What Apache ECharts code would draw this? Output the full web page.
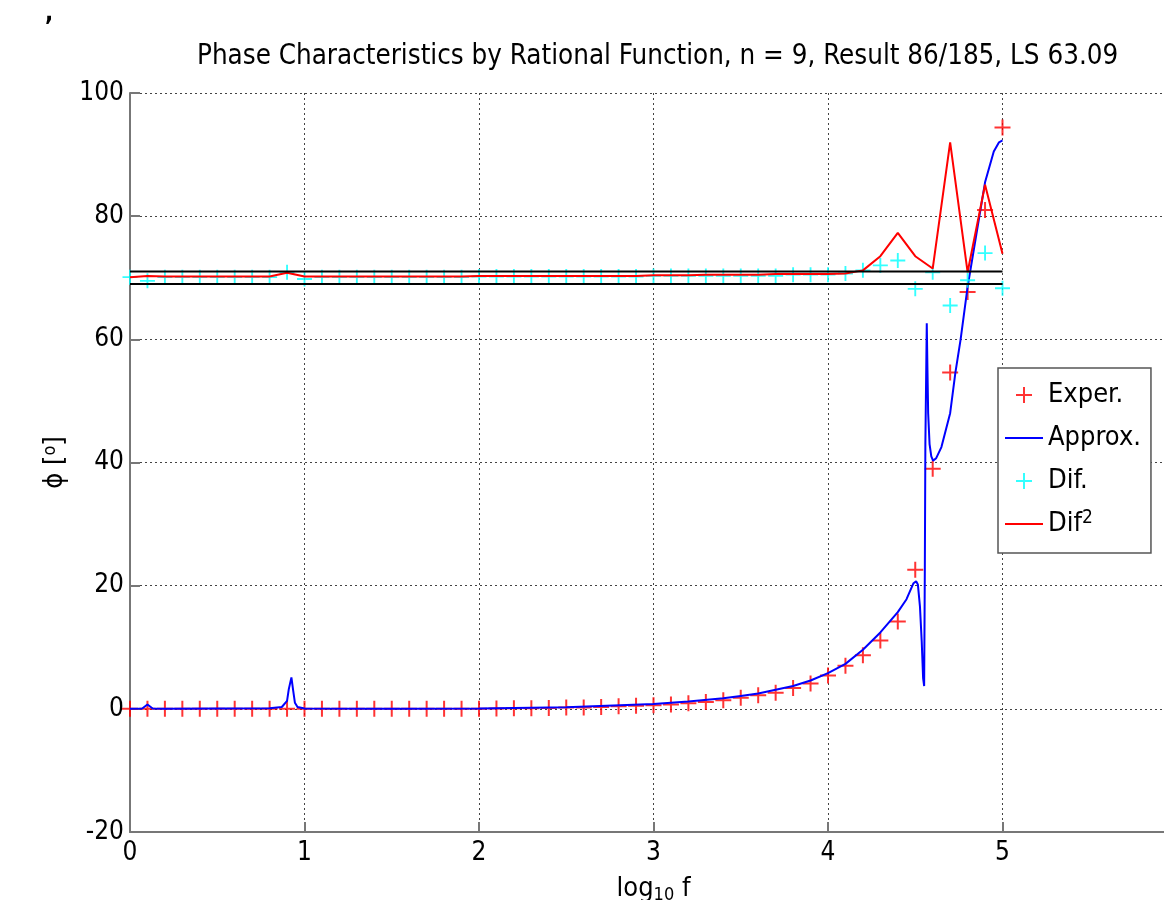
<!DOCTYPE html>
<html><head><meta charset="utf-8">
<script src="https://cdn.jsdelivr.net/npm/echarts@6/dist/echarts.min.js"></script>
<style>html,body{margin:0;padding:0;background:#fff}#c{width:1164px;height:900px}</style>
</head><body><div id="c"></div>
<script>
const FONT = "'Liberation Sans Narrow','Arial Narrow','DejaVu Sans Condensed',sans-serif";
const titleText = 'Phase Characteristics by Rational Function, n = 9, Result 86/185, LS 63.09';
const xTickLabels = ['0','1','2','3','4','5'];
const yTickLabels = ['-20','0','20','40','60','80','100'];
const expX = [0,0.1,0.2,0.3,0.4,0.5,0.6,0.7,0.8,0.9,1.0,1.1,1.2,1.3,1.4,1.5,1.6,1.7,1.8,1.9,
  2.0,2.1,2.2,2.3,2.4,2.5,2.6,2.7,2.8,2.9,3.0,3.1,3.2,3.3,3.4,3.5,3.6,3.7,3.8,3.9,
  4.0,4.1,4.2,4.3,4.4,4.5,4.6,4.7,4.8,4.9,5.0];
const experY = [0,0,0,0,0,0,0,0,0,0,0,0,0,0,0,0,0,0,0,0,
  0.0,0.05,0.1,0.1,0.15,0.2,0.2,0.3,0.4,0.5,0.6,0.7,0.9,1.1,1.4,1.8,2.2,2.6,3.4,4.1,
  5.4,7.0,8.7,11.1,14.2,22.6,39.0,54.6,67.7,81.0,94.4];
const difY = [70.1,69.5,70.1,70.1,70.1,70.1,70.1,70.1,70.1,70.9,69.8,70.1,70.1,70.1,70.1,70.1,70.1,70.1,70.1,70.1,
  70.2,70.2,70.2,70.2,70.2,70.2,70.2,70.2,70.2,70.2,70.3,70.3,70.3,70.3,70.3,70.3,70.3,70.3,70.5,70.5,
  70.5,70.7,71.2,72.0,72.8,68.2,70.9,65.5,69.6,74.0,68.3];
const dif2Y = [70.1,70.3,70.2,70.2,70.2,70.2,70.2,70.2,70.2,70.8,70.2,70.2,70.2,70.2,70.2,70.2,70.2,70.2,70.2,70.2,
  70.3,70.3,70.3,70.3,70.3,70.3,70.3,70.3,70.3,70.3,70.4,70.4,70.4,70.5,70.5,70.5,70.5,70.6,70.6,70.6,
  70.6,70.7,71.2,73.5,77.3,73.5,71.5,92.0,70.9,85.1,73.9];
const approxX = [0,0.07,0.1,0.13,0.2,0.8,0.87,0.9,0.91,0.925,0.935,0.945,0.96,1.0,1.5,2.0,2.5,3.0,3.2,3.4,3.5,3.6,3.8,3.9,
  4.0,4.1,4.2,4.3,4.4,4.45,4.49,4.505,4.515,4.527,4.537,4.545,4.551,4.555,4.558,4.566,4.57,4.574,4.582,4.592,4.602,4.62,4.65,
  4.7,4.73,4.76,4.8,4.85,4.9,4.95,4.98,5.0];
const approxY = [0,0.05,0.7,0.05,0,0.1,0.3,1.3,3.2,5.1,3.0,1.0,0.3,0.05,0.02,0.05,0.25,0.8,1.2,1.7,2.1,2.5,3.7,4.6,
  5.8,7.3,9.6,12.4,15.7,17.8,20.4,20.7,20.2,16.6,11,5,3.7,23,43,62.6,55,48,43,41,40.3,40.7,42.5,
  48,54.6,60,68.5,77,85.5,90.5,92,92.3];
const limitX = [0,5];
const upperLimit = [71,71];
const lowerLimit = [69,69];

const pairs = (xs, ys) => xs.map((x, i) => [x, ys[i]]);
const cross = 'path://M7,0h2v7h7v2h-7v7h-2v-7h-7v-2h7z';
const lineIcon = 'path://M0,0h38v2h-38z';

const chart = echarts.init(document.getElementById('c'), null, {renderer: 'canvas'});
const gridLine = {show: true, lineStyle: {color: '#444', type: [2, 3], width: 1}};
const axisLineStyle = {color: '#777', width: 2};
chart.setOption({
  animation: false,
  backgroundColor: '#fff',
  title: {
    text: titleText, left: 192, top: 38,
    textStyle: {fontFamily: FONT, fontSize: 27.5, fontWeight: 'normal', color: '#000'}
  },
  graphic: [
    {type: 'text', left: 45, top: 2, style: {text: ',', fontSize: 24, fontWeight: 'bold', fontFamily: FONT, fill: '#000'}}
  ],
  grid: {left: 130, top: 93, width: 1047, bottom: 68, containLabel: false, outerBoundsMode: 'none'},
  legend: {
    orient: 'vertical', left: 998, top: 368, selectedMode: false,
    itemWidth: 38, itemHeight: 16, itemGap: 13,
    padding: [12, 10, 14, 7],
    borderColor: '#555', borderWidth: 1.5, backgroundColor: '#fff',
    textStyle: {fontFamily: FONT, fontSize: 27, color: '#000', lineHeight: 30,
      rich: {sup: {fontSize: 19, fontFamily: FONT, color: '#000', verticalAlign: 'top', lineHeight: 16}}},
    formatter: n => n === 'Dif2' ? 'Dif{sup|2}' : n,
    data: [
      {name: 'Exper.', icon: cross},
      {name: 'Approx.', icon: lineIcon},
      {name: 'Dif.', icon: cross},
      {name: 'Dif2', icon: lineIcon}
    ]
  },
  xAxis: {
    type: 'value', min: 0, max: 6, interval: 1,
    name: 'log{sub|10} f', nameLocation: 'middle', nameGap: 42,
    nameTextStyle: {fontFamily: FONT, fontSize: 27, color: '#000',
      rich: {sub: {fontSize: 18, fontFamily: FONT, color: '#000', padding: [12, 0, 0, 0]}}},
    axisLine: {show: true, onZero: false, lineStyle: axisLineStyle},
    axisTick: {show: true, inside: true, length: 10, lineStyle: axisLineStyle},
    axisLabel: {margin: 8, fontFamily: FONT, fontSize: 26, color: '#000',
      formatter: v => xTickLabels[v] !== undefined ? xTickLabels[v] : ''},
    splitLine: gridLine
  },
  yAxis: {
    type: 'value', min: -20, max: 100, interval: 20,
    name: 'ϕ [{sup|o}]', nameLocation: 'middle', nameGap: 48, nameRotate: 90,
    nameTextStyle: {fontFamily: FONT, fontSize: 27, color: '#000',
      rich: {sup: {fontSize: 18, fontFamily: FONT, color: '#000', verticalAlign: 'top'}}},
    axisLine: {show: true, onZero: false, lineStyle: axisLineStyle},
    axisTick: {show: true, inside: true, length: 10, lineStyle: axisLineStyle},
    axisLabel: {margin: 6, fontFamily: FONT, fontSize: 26, color: '#000',
      formatter: v => yTickLabels[(v + 20) / 20]},
    splitLine: gridLine
  },
  series: [
    {name: 'Exper.', type: 'scatter', data: pairs(expX, experY), symbol: cross, symbolSize: 16,
      itemStyle: {color: '#ff0000'}, z: 3},
    {name: 'Approx.', type: 'line', data: pairs(approxX, approxY), symbol: 'none', showSymbol: false,
      lineStyle: {color: '#0000ff', width: 2}, itemStyle: {color: '#0000ff'}, z: 4},
    {name: 'Dif.', type: 'scatter', data: pairs(expX, difY), symbol: cross, symbolSize: 15,
      itemStyle: {color: '#00ffff'}, z: 5},
    {name: 'Dif2', type: 'line', data: pairs(expX, dif2Y), symbol: 'none', showSymbol: false,
      lineStyle: {color: '#ff0000', width: 2}, itemStyle: {color: '#ff0000'}, z: 6},
    {name: 'upper', type: 'line', data: pairs(limitX, upperLimit), symbol: 'none', showSymbol: false,
      lineStyle: {color: '#000', width: 2}, z: 7},
    {name: 'lower', type: 'line', data: pairs(limitX, lowerLimit), symbol: 'none', showSymbol: false,
      lineStyle: {color: '#000', width: 2}, z: 7}
  ]
});
</script></body></html>
